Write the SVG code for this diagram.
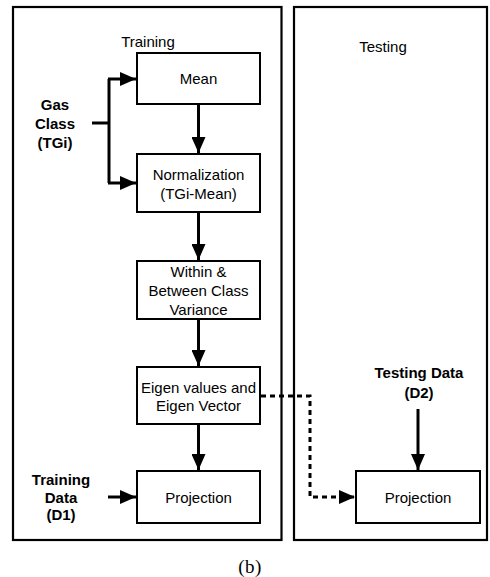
<svg xmlns="http://www.w3.org/2000/svg" width="490" height="577" viewBox="0 0 490 577">
  <style>
    .panel { fill: none; stroke: #000; stroke-width: 2.2; }
    .box { fill: #fff; stroke: #000; stroke-width: 2; }
    .lbl { font-family: "Liberation Sans", Arial, sans-serif; font-size: 15px; fill: #000; text-anchor: middle; }
    .bold { font-weight: bold; }
    .cap { font-family: "Liberation Serif", "Times New Roman", serif; font-size: 19px; letter-spacing: 0.5px; fill: #000; text-anchor: middle; }
    .flow { fill: none; stroke: #000; stroke-width: 3; }
    .dash { stroke-dasharray: 5 4; }
  </style>
  <defs>
    <marker id="arrow" markerUnits="userSpaceOnUse" viewBox="0 0 16 14" markerWidth="16" markerHeight="14" refX="16" refY="7" orient="auto">
      <path d="M0,0 L16,7 L0,14 z" fill="#000" stroke="none"/>
    </marker>
  </defs>

  <rect width="490" height="577" fill="#fff"/>

  <!-- stage panels -->
  <g id="training-panel">
    <rect class="panel" x="13" y="7" width="268.5" height="533"/>
    <text class="lbl" x="148" y="47">Training</text>
  </g>
  <g id="testing-panel">
    <rect class="panel" x="294" y="7" width="193" height="533"/>
    <text class="lbl" x="383" y="52">Testing</text>
  </g>

  <!-- inputs -->
  <g id="gas-class">
    <text class="lbl bold" x="55" y="110">Gas</text>
    <text class="lbl bold" x="55" y="129">Class</text>
    <text class="lbl bold" x="55" y="148">(TGi)</text>
  </g>
  <g id="training-data">
    <text class="lbl bold" x="61" y="485">Training</text>
    <text class="lbl bold" x="61" y="503">Data</text>
    <text class="lbl bold" x="61" y="520">(D1)</text>
  </g>
  <g id="testing-data">
    <text class="lbl bold" x="419" y="378">Testing Data</text>
    <text class="lbl bold" x="419" y="398">(D2)</text>
  </g>

  <!-- process boxes -->
  <g id="mean">
    <rect class="box" x="137" y="53" width="123" height="51"/>
    <text class="lbl" x="198.5" y="84">Mean</text>
  </g>
  <g id="normalization">
    <rect class="box" x="137" y="154" width="123" height="58"/>
    <text class="lbl" x="198.5" y="180">Normalization</text>
    <text class="lbl" x="198.5" y="199">(TGi-Mean)</text>
  </g>
  <g id="variance">
    <rect class="box" x="137" y="261" width="123" height="58"/>
    <text class="lbl" x="198.5" y="277">Within &amp;</text>
    <text class="lbl" x="198.5" y="296">Between Class</text>
    <text class="lbl" x="198.5" y="315">Variance</text>
  </g>
  <g id="eigen">
    <rect class="box" x="137" y="367" width="123" height="57"/>
    <text class="lbl" x="198.5" y="393">Eigen values and</text>
    <text class="lbl" x="198.5" y="411">Eigen Vector</text>
  </g>
  <g id="projection-train">
    <rect class="box" x="137" y="471" width="123" height="52"/>
    <text class="lbl" x="198.5" y="503">Projection</text>
  </g>
  <g id="projection-test">
    <rect class="box" x="356" y="471" width="124" height="52"/>
    <text class="lbl" x="418" y="503">Projection</text>
  </g>

  <!-- connectors -->
  <g id="connectors">
    <path class="flow" d="M92,123 H109"/>
    <path class="flow" d="M109,79 V183"/>
    <path class="flow" d="M108,79 H136" marker-end="url(#arrow)"/>
    <path class="flow" d="M108,183 H136" marker-end="url(#arrow)"/>
    <path class="flow" d="M198.5,104 V153" marker-end="url(#arrow)"/>
    <path class="flow" d="M198.5,212 V260" marker-end="url(#arrow)"/>
    <path class="flow" d="M198.5,319 V366" marker-end="url(#arrow)"/>
    <path class="flow" d="M198.5,424 V470" marker-end="url(#arrow)"/>
    <path class="flow" d="M108,497 H136" marker-end="url(#arrow)"/>
    <path class="flow" d="M418,409 V470" marker-end="url(#arrow)"/>
    <path class="flow dash" d="M261,396 H310 V497 H355" marker-end="url(#arrow)"/>
  </g>

  <text class="cap" x="250" y="573">(b)</text>
</svg>
